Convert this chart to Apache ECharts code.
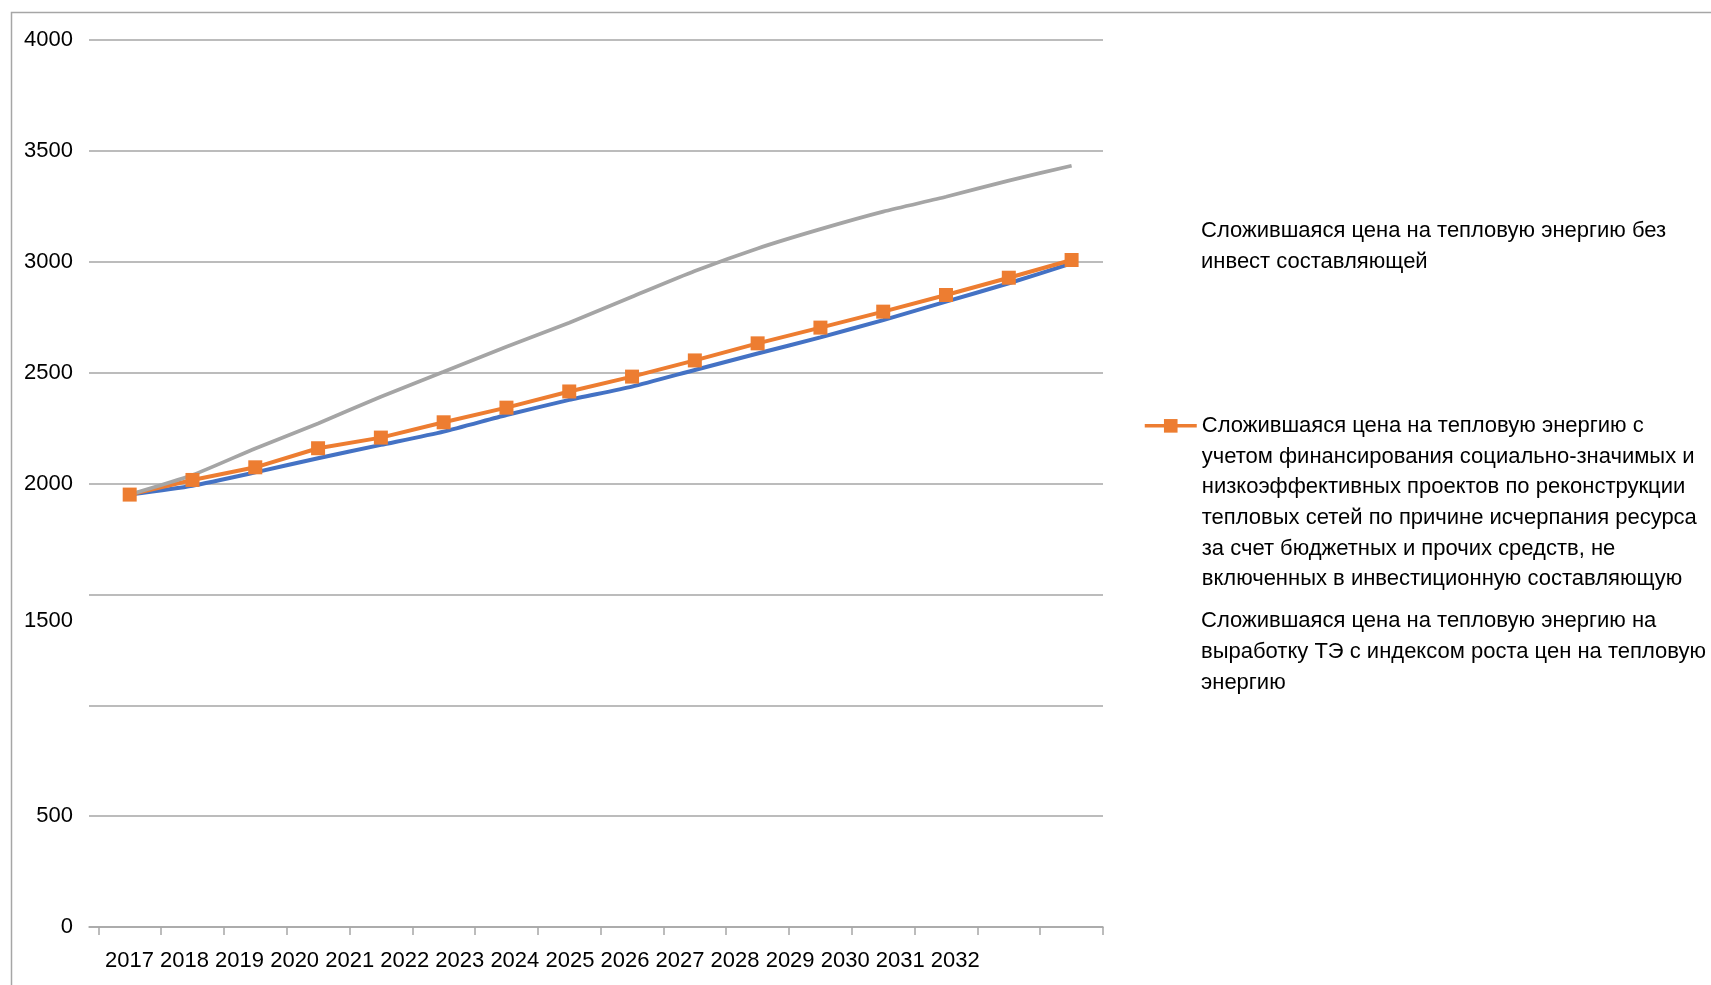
<!DOCTYPE html>
<html>
<head>
<meta charset="utf-8">
<script src="https://cdn.jsdelivr.net/npm/echarts@6/dist/echarts.min.js"></script>
<style>
  html, body { margin: 0; padding: 0; background: #ffffff; }
  #chart { width: 1711px; height: 985px; }
</style>
</head>
<body>
<div id="chart"></div>
<script>
// Years of the forecast period
const years = ['2017', '2018', '2019', '2020', '2021', '2022', '2023', '2024',
               '2025', '2026', '2027', '2028', '2029', '2030', '2031', '2032'];

// Price without the investment component (grey)
const priceNoInvest = [1950, 2038, 2158, 2271, 2391, 2504, 2617, 2725,
                       2842, 2958, 3060, 3147, 3226, 3293, 3366, 3433];

// Price including socially significant / low-efficiency network projects (orange)
const priceWithFunding = [1950, 2016, 2073, 2159, 2207, 2276, 2342, 2415,
                          2482, 2555, 2632, 2703, 2775, 2850, 2928, 3008];

// Price for heat generation with the heat price growth index (blue)
const priceIndexed = [1950, 1990, 2050, 2114, 2174, 2234, 2309, 2377,
                      2437, 2512, 2586, 2659, 2737, 2820, 2903, 2993];

// Value axis tick labels (the 1000 mark carries no label)
const yTickValues = [0, 500, 1000, 1500, 2000, 2500, 3000, 3500, 4000];
const yTickLabels = ['0', '500', '', '1500', '2000', '2500', '3000', '3500', '4000'];

// Series names
const nameNoInvest = 'Сложившаяся цена на тепловую энергию без инвест составляющей';
const nameWithFunding = 'Сложившаяся цена на тепловую энергию с учетом финансирования социально-значимых и низкоэффективных проектов по реконструкции тепловых сетей по причине исчерпания ресурса за счет бюджетных и прочих средств, не включенных в инвестиционную составляющую';
const nameIndexed = 'Сложившаяся цена на тепловую энергию на выработку ТЭ с индексом роста цен на тепловую энергию';

// Legend text, broken into lines
const legendNoInvest = ['Сложившаяся цена на тепловую энергию без', 'инвест составляющей'];
const legendWithFunding = ['Сложившаяся цена на тепловую энергию с',
  'учетом финансирования социально-значимых и',
  'низкоэффективных проектов по реконструкции',
  'тепловых сетей по причине исчерпания ресурса',
  'за счет бюджетных и прочих средств, не',
  'включенных в инвестиционную составляющую'];
const legendIndexed = ['Сложившаяся цена на тепловую энергию на',
  'выработку ТЭ с индексом роста цен на тепловую', 'энергию'];

const FONT = "'Liberation Sans', Arial, sans-serif";
const FS = 22;
const LH = 30.7;

// The marker sits beside the first line of a multi-line entry:
// blank lines above balance the remaining lines below.
const withIconOnFirstLine = lines => '\n'.repeat(lines.length - 1) + lines.join('\n');

const legendText = {};
legendText[nameNoInvest] = legendNoInvest.join('\n');
legendText[nameWithFunding] = withIconOnFirstLine(legendWithFunding);
legendText[nameIndexed] = legendIndexed.join('\n');

const pairs = arr => arr.map((v, i) => [i, v]);
const halfSteps = [];
for (let i = 0; i <= years.length; i++) halfSteps.push(i - 0.5);

const chart = echarts.init(document.getElementById('chart'), null, { renderer: 'canvas' });

const baseLegend = {
  orient: 'vertical',
  padding: 0,
  itemWidth: 52,
  itemHeight: 17,
  selectedMode: false,
  formatter: n => legendText[n],
  textStyle: { fontFamily: FONT, fontSize: FS, color: '#000000', lineHeight: LH }
};

chart.setOption({
  backgroundColor: '#ffffff',
  animation: false,
  grid: { left: 89, right: 608, top: 40, bottom: 58, containLabel: false },
  xAxis: {
    type: 'value',
    min: -0.648,
    max: years.length - 0.5,
    axisLine: { show: true, onZero: false, lineStyle: { color: '#a6a6a6', width: 1.5 } },
    axisTick: { show: true, length: 8, customValues: halfSteps, lineStyle: { color: '#a6a6a6', width: 1.5 } },
    axisLabel: { show: false },
    splitLine: { show: false }
  },
  yAxis: {
    type: 'value',
    min: 0,
    max: 4000,
    interval: 500,
    axisLine: { show: false },
    axisTick: { show: false },
    splitLine: { show: true, lineStyle: { color: '#a6a6a6', width: 1.5 } },
    axisLabel: {
      margin: 16,
      fontFamily: FONT,
      fontSize: FS,
      color: '#000000',
      formatter: v => {
        const lbl = yTickLabels[yTickValues.indexOf(v)] || '';
        return lbl === '1500' ? '{low|' + lbl + '}' : lbl;
      },
      rich: { low: { fontFamily: FONT, fontSize: FS, color: '#000000', padding: [54, 0, 0, 0] } }
    }
  },
  legend: [
    Object.assign({}, baseLegend, {
      left: 1143, top: 216,
      data: [{ name: nameNoInvest, itemStyle: { opacity: 0 }, lineStyle: { opacity: 0 } }]
    }),
    Object.assign({}, baseLegend, {
      left: 1143, top: 257,
      data: [{ name: nameWithFunding, lineStyle: { width: 3.5 } }]
    }),
    Object.assign({}, baseLegend, {
      left: 1143, top: 606,
      data: [{ name: nameIndexed, itemStyle: { opacity: 0 }, lineStyle: { opacity: 0 } }]
    })
  ],
  graphic: [
    {
      type: 'rect', left: 9, top: 10, silent: true,
      shape: { width: 1800, height: 1100 },
      style: { fill: 'none', stroke: '#a6a6a6', lineWidth: 1.5 }
    },
    {
      type: 'text', left: 105, top: 950, silent: true,
      style: { text: years.join(' '), font: FS + 'px ' + FONT, fill: '#000000' }
    }
  ],
  series: [
    {
      name: nameIndexed, type: 'line', data: pairs(priceIndexed),
      smooth: 0.2, showSymbol: false, symbol: 'none',
      lineStyle: { color: '#4472c4', width: 4 }, itemStyle: { color: '#4472c4' }
    },
    {
      name: nameWithFunding, type: 'line', data: pairs(priceWithFunding),
      symbol: 'rect', symbolSize: 14,
      lineStyle: { color: '#ed7d31', width: 4 }, itemStyle: { color: '#ed7d31' }
    },
    {
      name: nameNoInvest, type: 'line', data: pairs(priceNoInvest),
      smooth: 0.2, showSymbol: false, symbol: 'none',
      lineStyle: { color: '#a5a5a5', width: 3.75 }, itemStyle: { color: '#a5a5a5' }
    }
  ]
});
</script>
</body>
</html>
